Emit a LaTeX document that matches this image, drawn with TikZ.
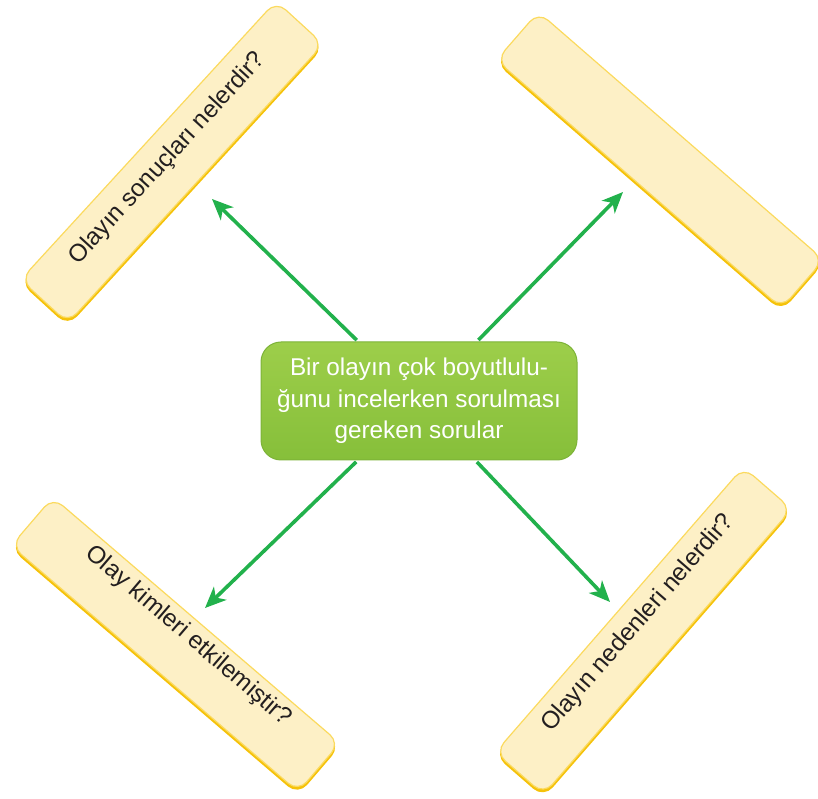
\documentclass[tikz,border=0pt]{standalone}
\usepackage{fontspec}
\setmainfont{Liberation Sans}
\usetikzlibrary{arrows.meta}
\definecolor{boxfill}{HTML}{FDF0C6}
\definecolor{boxline}{HTML}{FBDA5E}
\definecolor{boxshadow}{HTML}{F5C20A}
\definecolor{arrgreen}{HTML}{22B14C}
\definecolor{textdark}{HTML}{231F20}
\definecolor{gtop}{HTML}{9DCE4A}
\definecolor{gbot}{HTML}{86BF3A}
\definecolor{gline}{HTML}{7DB338}
\begin{document}
\begin{tikzpicture}[x=1pt,y=1pt,
  ybox/.style={rectangle, rounded corners=13pt, minimum width=378pt, minimum height=64pt,
    fill=boxfill, draw=boxline, line width=1.2pt, inner sep=0pt,
    preaction={fill=boxshadow, draw=boxshadow, line width=1.2pt, transform canvas={shift={(0pt,-2.6pt)}}}},
  qtext/.style={font=\fontsize{24.4}{29}\selectfont, text=textdark, inner sep=0pt},
  cbox/.style={rectangle, rounded corners=20pt, minimum width=316pt, minimum height=118pt,
    top color=gtop, bottom color=gbot, draw=gline, line width=1pt, text=white, align=center,
    font=\fontsize{24.3}{31.5}\selectfont, inner sep=0pt},
  arr/.style={draw=arrgreen, line width=3.6pt, -{Stealth[length=21pt,width=18pt,inset=6pt]}, shorten <=2pt},
]
\useasboundingbox (0,0) rectangle (818,798);

% yellow boxes
\node[ybox, rotate=47.5] (b1) at (172,636) {};
\node[ybox, rotate=-41] (b2) at (660,638) {};
\node[ybox, rotate=-40.6] (b3) at (175.5,153.5) {};
\node[ybox, rotate=49] (b4) at (643.5,167.25) {};

% texts
\node[qtext, rotate=47.5] (q1) at (167.6,639.6) {Olayın sonuçları nelerdir?};
\node[qtext, rotate=-40.6] (q3) at (188.4,161.6) {Olay kimleri etkilemiştir?};
\node[qtext, rotate=49] (q4) at (637.9,174.9) {Olayın nedenleri nelerdir?};

% centre
\node[cbox] (c) at (419,397) {Bir olayın çok boyutlulu-\\ğunu incelerken sorulması\\gereken sorular};

% arrow tips
\coordinate (t1) at (212,599);
\coordinate (t2) at (623,606);
\coordinate (t3) at (205,190);
\coordinate (t4) at (610,196);

\draw[arr] (c) -- (t1);
\draw[arr] (c) -- (t2);
\draw[arr] (c) -- (t3);
\draw[arr] (c) -- (t4);
\end{tikzpicture}
\end{document}
